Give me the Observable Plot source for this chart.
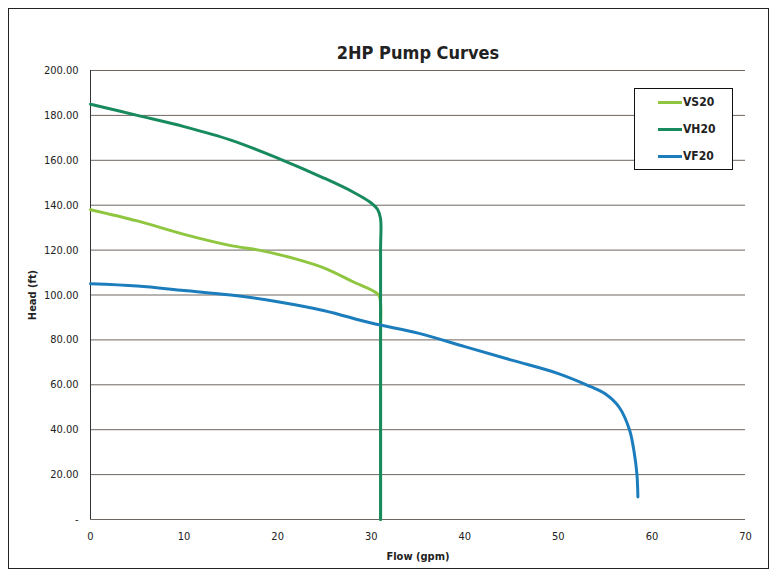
<!DOCTYPE html>
<html><head><meta charset="utf-8">
<script src="https://cdn.jsdelivr.net/npm/d3@7"></script>
<script src="https://cdn.jsdelivr.net/npm/@observablehq/plot@0.6"></script>
<style>
body{margin:0;background:#fff;font-family:"Liberation Sans Narrow","DejaVu Sans Condensed",Roboto,sans-serif;}
#wrap{position:relative;width:776px;height:581px;}
#frame{position:absolute;left:8px;top:8px;width:761px;height:561px;border:1px solid #222;box-sizing:border-box;pointer-events:none;}
#legend{position:absolute;left:634px;top:88px;width:99px;height:82px;border:1.5px solid #111;box-sizing:border-box;background:#fff;font-weight:bold;font-size:12px;color:#222;}
#legend .row{position:absolute;left:23px;display:flex;align-items:center;}
#legend .sw{width:24px;height:3px;margin-right:1px;}
</style></head>
<body>
<div id="wrap"><div id="chart"></div><div id="frame"></div><div id="legend"></div></div>
<script>
const series = ["VS20", "VH20", "VF20"];
const colors = ["#8fc640", "#178a5e", "#1c7dbd"];
const vs20Flow = [0, 5, 10, 15, 18, 22, 25, 28, 30.8, 31, 31, 31];
const vs20Head = [138, 133, 127, 122, 120, 116, 112, 106, 100, 96, 85, 0];
const vh20Flow = [0, 5, 10, 15, 20, 25, 28, 30, 30.7, 31, 31, 31];
const vh20Head = [185, 180, 175, 169, 161, 152, 146, 141, 138, 134, 120, 0];
const vf20Flow = [0, 5, 10, 15, 20, 25, 30, 35, 40, 45, 50, 53, 55, 56.5, 57.6, 58.1, 58.4, 58.5];
const vf20Head = [105, 104, 102, 100, 97, 93, 87.5, 83, 77, 71, 65, 60, 56, 50, 40, 30, 20, 10];
const yTicks = [0, 20, 40, 60, 80, 100, 120, 140, 160, 180, 200];
const xTicks = [0, 10, 20, 30, 40, 50, 60, 70];
const title = "2HP Pump Curves";

const rows = [];
[[vs20Flow, vs20Head], [vh20Flow, vh20Head], [vf20Flow, vf20Head]].forEach(([f, h], i) => {
  f.forEach((x, j) => rows.push({series: series[i], flow: x, head: h[j]}));
});

const font = '"Liberation Sans Narrow","DejaVu Sans Condensed",Roboto,sans-serif';
const chart = Plot.plot({
  width: 776, height: 581,
  marginLeft: 90, marginRight: 31, marginTop: 70, marginBottom: 62,
  style: {fontFamily: font, fontSize: "11px", color: "#222", background: "transparent"},
  x: {domain: [0, 70]},
  y: {domain: [0, 200]},
  color: {domain: series, range: colors},
  marks: [
    Plot.gridY(yTicks, {stroke: "#6e6660", strokeOpacity: 1, strokeWidth: 1}),
    Plot.ruleX([0], {stroke: "#333"}),
    Plot.axisX({ticks: xTicks, tickSize: 0, tickPadding: 13, fontWeight: 500, label: "Flow (gpm)", labelAnchor: "center", labelArrow: "none", labelOffset: 40}),
    Plot.axisY({ticks: yTicks, tickSize: 0, tickPadding: 12, fontWeight: 500, tickFormat: d => d === 0 ? "-" : d.toFixed(2), label: "Head (ft)", labelAnchor: "center", labelArrow: "none", labelOffset: 62}),
    Plot.line(rows, {x: "flow", y: "head", z: "series", stroke: "series", strokeWidth: 3, curve: "catmull-rom"}),
    Plot.text([title], {frameAnchor: "top", dy: -24, fontSize: 18, fontWeight: "bold", fill: "#222"})
  ]
});
chart.querySelectorAll('[aria-label="x-axis label"] text, [aria-label="y-axis label"] text').forEach(t => t.setAttribute("font-weight", "bold"));
document.getElementById("chart").appendChild(chart);

const leg = document.getElementById("legend");
series.forEach((s, i) => {
  const r = document.createElement("div");
  r.className = "row";
  r.style.top = (6 + i * 27) + "px";
  r.innerHTML = `<span class="sw" style="background:${colors[i]}"></span><span>${s}</span>`;
  leg.appendChild(r);
});
</script>
</body></html>
